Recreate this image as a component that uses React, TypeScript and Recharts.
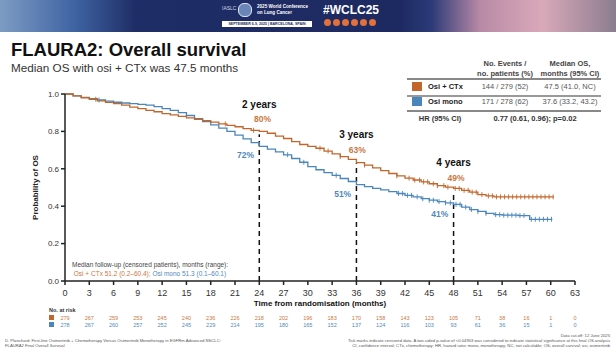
import React from 'react';
import {
  ComposedChart, Line, Scatter, XAxis, YAxis, ReferenceLine, ReferenceDot,
} from 'recharts';

// Kaplan-Meier estimates (month, survival)
const osiCtx = [
  { m: 0, s: 1.0 }, { m: 1, s: 0.99 }, { m: 2, s: 0.98 }, { m: 3, s: 0.972 }, { m: 4, s: 0.963 },
  { m: 5, s: 0.955 }, { m: 6, s: 0.948 }, { m: 7, s: 0.94 }, { m: 8, s: 0.93 }, { m: 9, s: 0.922 },
  { m: 10, s: 0.912 }, { m: 11, s: 0.905 }, { m: 12, s: 0.895 }, { m: 13, s: 0.888 }, { m: 14, s: 0.88 },
  { m: 15, s: 0.872 }, { m: 16, s: 0.865 }, { m: 17, s: 0.857 }, { m: 18, s: 0.85 }, { m: 19, s: 0.84 },
  { m: 20, s: 0.832 }, { m: 21, s: 0.825 }, { m: 22, s: 0.815 }, { m: 23, s: 0.806 }, { m: 24, s: 0.8 },
  { m: 25, s: 0.79 }, { m: 26, s: 0.775 }, { m: 27, s: 0.762 }, { m: 28, s: 0.745 }, { m: 29, s: 0.73 },
  { m: 30, s: 0.72 }, { m: 31, s: 0.71 }, { m: 32, s: 0.695 }, { m: 33, s: 0.68 }, { m: 34, s: 0.665 },
  { m: 35, s: 0.65 }, { m: 36, s: 0.633 }, { m: 37, s: 0.62 }, { m: 38, s: 0.605 }, { m: 39, s: 0.59 },
  { m: 40, s: 0.575 }, { m: 41, s: 0.562 }, { m: 42, s: 0.55 }, { m: 43, s: 0.54 }, { m: 44, s: 0.53 },
  { m: 45, s: 0.52 }, { m: 46, s: 0.51 }, { m: 47, s: 0.502 }, { m: 48, s: 0.495 }, { m: 49, s: 0.485 },
  { m: 50, s: 0.475 }, { m: 51, s: 0.462 }, { m: 52, s: 0.455 }, { m: 53, s: 0.45 }, { m: 60.4, s: 0.45 },
];

const osiMono = [
  { m: 0, s: 1.0 }, { m: 1, s: 0.99 }, { m: 2, s: 0.982 }, { m: 3, s: 0.975 }, { m: 4, s: 0.968 },
  { m: 5, s: 0.962 }, { m: 6, s: 0.956 }, { m: 7, s: 0.952 }, { m: 8, s: 0.948 }, { m: 9, s: 0.945 },
  { m: 10, s: 0.94 }, { m: 11, s: 0.932 }, { m: 12, s: 0.922 }, { m: 13, s: 0.912 }, { m: 14, s: 0.9 },
  { m: 15, s: 0.885 }, { m: 16, s: 0.868 }, { m: 17, s: 0.852 }, { m: 18, s: 0.835 }, { m: 19, s: 0.818 },
  { m: 20, s: 0.8 }, { m: 21, s: 0.78 }, { m: 22, s: 0.76 }, { m: 23, s: 0.74 }, { m: 24, s: 0.72 },
  { m: 25, s: 0.705 }, { m: 26, s: 0.69 }, { m: 27, s: 0.675 }, { m: 28, s: 0.655 }, { m: 29, s: 0.635 },
  { m: 30, s: 0.612 }, { m: 31, s: 0.595 }, { m: 32, s: 0.58 }, { m: 33, s: 0.565 }, { m: 34, s: 0.548 },
  { m: 35, s: 0.532 }, { m: 36, s: 0.515 }, { m: 37, s: 0.505 }, { m: 38, s: 0.495 }, { m: 39, s: 0.487 },
  { m: 40, s: 0.478 }, { m: 41, s: 0.468 }, { m: 42, s: 0.458 }, { m: 43, s: 0.45 }, { m: 44, s: 0.44 },
  { m: 45, s: 0.432 }, { m: 46, s: 0.425 }, { m: 47, s: 0.418 }, { m: 48, s: 0.41 }, { m: 49, s: 0.395 },
  { m: 50, s: 0.382 }, { m: 51, s: 0.372 }, { m: 52, s: 0.362 }, { m: 53, s: 0.355 }, { m: 54, s: 0.352 },
  { m: 56, s: 0.35 }, { m: 57.4, s: 0.33 }, { m: 60.2, s: 0.33 },
];

// censoring times (months)
const censorCtxTimes = [
  3.8, 19.8, 23.3, 31.5, 32.5, 34, 37, 41, 42.5, 43.2, 43.8, 44.3, 44.8, 45.5, 46, 46.8, 47.3,
  48.2, 48.7, 49.3, 49.8, 50.3, 50.8, 51.5, 52.3, 52.8, 53.3, 53.8, 54.3, 54.8, 55.3, 55.8,
  56.3, 56.8, 57.3, 57.8, 58.3, 58.8, 59.3, 59.8, 60.3,
];
const censorMonoTimes = [
  4.2, 27.5, 29.5, 33.5, 41.2, 41.7, 42.3, 42.8, 43.5, 44.2, 45, 45.5, 46.2, 47, 47.6, 48.3,
  48.8, 49.5, 50.2, 51, 52, 53.2, 53.7, 54.2, 54.7, 55.2, 55.7, 56.2, 56.7, 57.6, 58.1, 58.6,
  59.1, 59.6, 60.1,
];

const xTicks = [0, 3, 6, 9, 12, 15, 18, 21, 24, 27, 30, 33, 36, 39, 42, 45, 48, 51, 54, 57, 60, 63];
const yTicks = [0, 0.2, 0.4, 0.6, 0.8, 1.0];

const riskCtx = [279, 267, 259, 253, 245, 240, 236, 226, 218, 202, 196, 183, 170, 158, 143, 123, 105, 71, 38, 16, 1, 0];
const riskMono = [278, 267, 260, 257, 252, 245, 229, 214, 195, 180, 165, 152, 137, 124, 116, 103, 93, 61, 36, 15, 1, 0];

// landmark annotations
const landmarkMonths = [24, 36, 48];
const landmarkTitles = ['2 years', '3 years', '4 years'];
const landmarkLineTop = [0.785, 0.63, 0.48];
const landmarkTitleY = [0.944, 0.783, 0.633];
const ctxPct = ['80%', '63%', '49%'];
const ctxPctPos = [{ m: 24.4, s: 0.864 }, { m: 36.1, s: 0.702 }, { m: 48.3, s: 0.553 }];
const monoPct = ['72%', '51%', '41%'];
const monoPctPos = [{ m: 22.3, s: 0.676 }, { m: 34.3, s: 0.466 }, { m: 46.3, s: 0.356 }];

const ORANGE = '#c2662b';
const BLUE = '#4a86bb';
const ORANGE_TXT = '#c9783f';
const BLUE_TXT = '#5089bd';

const stepAt = (curve: { m: number; s: number }[], t: number) => {
  let v = curve[0].s;
  for (const p of curve) if (p.m <= t) v = p.s;
  return v;
};
const censorCtx = censorCtxTimes.map((t) => ({ m: t, s: stepAt(osiCtx, t) }));
const censorMono = censorMonoTimes.map((t) => ({ m: t, s: stepAt(osiMono, t) }));

const CensorTick = (props: any) => {
  const { cx, cy, fill } = props;
  if (cx == null || cy == null) return null;
  return <line x1={cx} x2={cx} y1={cy - 2.5} y2={cy + 2.5} stroke={fill} strokeWidth={0.9} />;
};

const XTick = (props: any) => {
  const { x, y, payload } = props;
  const i = xTicks.indexOf(payload.value);
  return (
    <g>
      <text x={x} y={y} dy={9} textAnchor="middle" fontSize={9} fill="#333">{payload.value}</text>
      <text x={x} y={y} dy={32.5} textAnchor="middle" fontSize={5.5} fill={ORANGE_TXT}>{riskCtx[i]}</text>
      <text x={x} y={y} dy={39.5} textAnchor="middle" fontSize={5.5} fill={BLUE_TXT}>{riskMono[i]}</text>
    </g>
  );
};

const font = '"Liberation Sans", Arial, Helvetica, sans-serif';

export default function App() {
  return (
    <div style={{ position: 'absolute', left: 0, top: 0, width: 616, height: 354, background: '#fff', overflow: 'hidden', fontFamily: font }}>
      {/* conference banner */}
      <div style={{ position: 'absolute', left: 0, top: 0, width: 616, height: 32,
        background: 'linear-gradient(90deg, #7d9cc4 0%, #3f64a3 12%, #1f2d66 22%, #1d2a62 65%, #2b3a78 70%, #b98aa6 78%, #d9a9b9 88%, #8b7d8e 100%)' }}>
        <div style={{ position: 'absolute', left: 222, top: 5, color: '#cfd6ea', fontSize: 5 }}>IASLC</div>
        <div style={{ position: 'absolute', left: 238, top: 3, width: 12, height: 12, borderRadius: 6, background: '#6a85b8', border: '1px solid #dfe5f2' }} />
        <div style={{ position: 'absolute', left: 257, top: 4, color: '#fff', fontSize: 4.6, fontWeight: 'bold', lineHeight: '5.5px' }}>2025 World Conference<br />on Lung Cancer</div>
        <div style={{ position: 'absolute', left: 222, top: 21, width: 90, height: 6, background: '#fff', color: '#1d2a62', fontSize: 3.6, fontWeight: 'bold', lineHeight: '6px', textAlign: 'center' }}>SEPTEMBER 6-9, 2025 | BARCELONA, SPAIN</div>
        <div style={{ position: 'absolute', left: 323, top: 3, color: '#fff', fontSize: 12, fontWeight: 'bold' }}>#WCLC25</div>
        {[0, 1, 2, 3, 4, 5].map((k) => (
          <div key={k} style={{ position: 'absolute', left: 324 + k * 9, top: 19, width: 7, height: 7, borderRadius: 4, background: '#e2703a' }} />
        ))}
      </div>

      <div style={{ position: 'absolute', left: 11, top: 39, fontSize: 18.5, fontWeight: 'bold', color: '#111' }}>FLAURA2: Overall survival</div>
      <div style={{ position: 'absolute', left: 11, top: 61, fontSize: 11.7, color: '#333' }}>Median OS with osi + CTx was 47.5 months</div>

      {/* summary table */}
      <div style={{ position: 'absolute', left: 470, top: 59, width: 70, textAlign: 'center', fontSize: 7.5, fontWeight: 'bold', color: '#444', lineHeight: '9.5px' }}>No. Events /<br />no. patients (%)</div>
      <div style={{ position: 'absolute', left: 535, top: 59, width: 70, textAlign: 'center', fontSize: 7.5, fontWeight: 'bold', color: '#444', lineHeight: '9.5px' }}>Median OS,<br />months (95% CI)</div>
      <div style={{ position: 'absolute', left: 407, top: 78, width: 194, height: 1.5, background: '#888' }} />
      <div style={{ position: 'absolute', left: 412, top: 82, width: 10, height: 9, background: ORANGE }} />
      <div style={{ position: 'absolute', left: 428, top: 82, fontSize: 7.5, fontWeight: 'bold', color: '#222' }}>Osi + CTx</div>
      <div style={{ position: 'absolute', left: 470, top: 82, width: 70, textAlign: 'center', fontSize: 7.5, color: '#555' }}>144 / 279 (52)</div>
      <div style={{ position: 'absolute', left: 535, top: 82, width: 70, textAlign: 'center', fontSize: 7.5, color: '#555' }}>47.5 (41.0, NC)</div>
      <div style={{ position: 'absolute', left: 407, top: 95, width: 194, height: 1.5, background: '#999' }} />
      <div style={{ position: 'absolute', left: 412, top: 97, width: 10, height: 9, background: BLUE }} />
      <div style={{ position: 'absolute', left: 428, top: 97, fontSize: 7.5, fontWeight: 'bold', color: '#222' }}>Osi mono</div>
      <div style={{ position: 'absolute', left: 470, top: 97, width: 70, textAlign: 'center', fontSize: 7.5, color: '#555' }}>171 / 278 (62)</div>
      <div style={{ position: 'absolute', left: 535, top: 97, width: 70, textAlign: 'center', fontSize: 7.5, color: '#555' }}>37.6 (33.2, 43.2)</div>
      <div style={{ position: 'absolute', left: 407, top: 110, width: 194, height: 1.5, background: '#888' }} />
      <div style={{ position: 'absolute', left: 410, top: 114, width: 60, textAlign: 'center', fontSize: 7.5, fontWeight: 'bold', color: '#333' }}>HR (95% CI)</div>
      <div style={{ position: 'absolute', left: 480, top: 114, width: 110, textAlign: 'center', fontSize: 7.5, fontWeight: 'bold', color: '#333' }}>0.77 (0.61, 0.96); p=0.02</div>

      {/* follow-up note */}
      <div style={{ position: 'absolute', left: 72, top: 260, fontSize: 6.5, color: '#444', lineHeight: '9px' }}>
        Median follow-up (censored patients), months (range):<br />
        <span style={{ color: ORANGE_TXT }}>&nbsp;Osi + CTx 51.2 (0.2–60.4);</span>
        <span style={{ color: BLUE_TXT }}> Osi mono 51.3 (0.1–60.1)</span>
      </div>

      {/* number at risk labels */}
      <div style={{ position: 'absolute', left: 49, top: 307, fontSize: 5.5, fontWeight: 'bold', color: '#333' }}>No. at risk</div>
      <div style={{ position: 'absolute', left: 49, top: 315, width: 5, height: 5, background: ORANGE }} />
      <div style={{ position: 'absolute', left: 49, top: 322, width: 5, height: 5, background: BLUE }} />

      {/* footnotes */}
      <div style={{ position: 'absolute', left: 5, top: 338, fontSize: 4.2, color: '#555', lineHeight: '5px' }}>
        D. Planchard. First-line Osimertinib + Chemotherapy Versus Osimertinib Monotherapy in EGFRm Advanced NSCLC:<br />FLAURA2 Final Overall Survival
      </div>
      <div style={{ position: 'absolute', right: 6, top: 333, fontSize: 4.2, color: '#555', lineHeight: '5.2px', textAlign: 'right' }}>
        Data cut-off: 12 June 2025<br />
        Tick marks indicate censored data. A two-sided p-value of &lt;0.04903 was considered to indicate statistical significance at this final OS analysis<br />
        CI, confidence interval; CTx, chemotherapy; HR, hazard ratio; mono, monotherapy; NC, not calculable; OS, overall survival; osi, osimertinib
      </div>

      <div style={{ position: 'absolute', left: 0, top: 0 }}>
        <ComposedChart width={616} height={354} margin={{ top: 94, right: 41, bottom: 43, left: 25 }}>
          <XAxis
            dataKey="m" type="number" domain={[0, 63]} ticks={xTicks} interval={0}
            stroke="#222" strokeWidth={1.5} tickSize={4} tick={<XTick />} height={30}
            label={{ value: 'Time from randomisation (months)', position: 'insideBottom', offset: 5, fontSize: 8, fontWeight: 'bold', fill: '#111' }}
          />
          <YAxis
            dataKey="s" type="number" domain={[0, 1]} ticks={yTicks} width={40}
            stroke="#222" strokeWidth={1.5} tickSize={4}
            tick={{ fontSize: 8, fill: '#333' }} tickFormatter={(v: number) => v.toFixed(1)}
            label={{ value: 'Probability of OS', angle: -90, position: 'insideLeft', offset: 10, fontSize: 8, fontWeight: 'bold', fill: '#222', style: { textAnchor: 'middle' } }}
          />
          {landmarkMonths.map((mo, i) => (
            <ReferenceLine key={'rl' + mo} segment={[{ x: mo, y: 0 }, { x: mo, y: landmarkLineTop[i] }]}
              stroke="#111" strokeWidth={1.5} strokeDasharray="5 4" />
          ))}
          <Line data={osiMono} dataKey="s" type="stepAfter" stroke={BLUE} strokeWidth={1.3} dot={false} isAnimationActive={false} />
          <Line data={osiCtx} dataKey="s" type="stepAfter" stroke={ORANGE} strokeWidth={1.3} dot={false} isAnimationActive={false} />
          <Scatter data={censorMono} dataKey="s" fill={BLUE} shape={<CensorTick />} isAnimationActive={false} />
          <Scatter data={censorCtx} dataKey="s" fill={ORANGE} shape={<CensorTick />} isAnimationActive={false} />
          {landmarkMonths.map((mo, i) => (
            <ReferenceDot key={'t' + mo} x={mo} y={landmarkTitleY[i]} r={0} fill="none" stroke="none"
              label={{ value: landmarkTitles[i], position: 'center', fontSize: 10, fontWeight: 'bold', fill: '#111' }} />
          ))}
          {ctxPctPos.map((p, i) => (
            <ReferenceDot key={'c' + i} x={p.m} y={p.s} r={0} fill="none" stroke="none"
              label={{ value: ctxPct[i], position: 'center', fontSize: 8.5, fontWeight: 'bold', fill: ORANGE_TXT }} />
          ))}
          {monoPctPos.map((p, i) => (
            <ReferenceDot key={'b' + i} x={p.m} y={p.s} r={0} fill="none" stroke="none"
              label={{ value: monoPct[i], position: 'center', fontSize: 8.5, fontWeight: 'bold', fill: BLUE_TXT }} />
          ))}
        </ComposedChart>
      </div>
    </div>
  );
}
